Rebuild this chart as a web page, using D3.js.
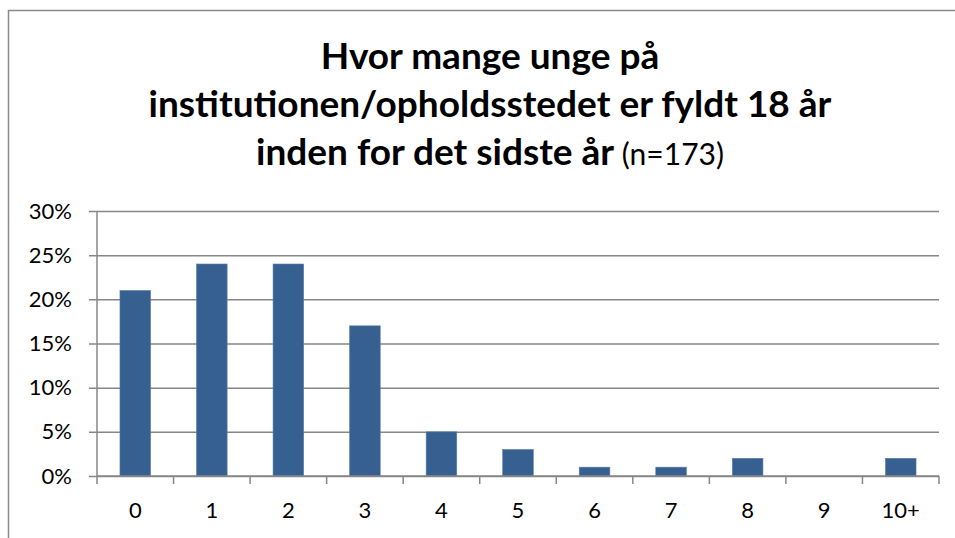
<!DOCTYPE html>
<html>
<head>
<meta charset="utf-8">
<script src="https://cdn.jsdelivr.net/npm/d3@7"></script>
<style>
  html, body { margin: 0; padding: 0; background: #fff; }
  svg { display: block; font-family: Lato, "Open Sans", sans-serif; }
</style>
</head>
<body>
<svg id="chart"></svg>
<script>
// Data
const categories = ['0', '1', '2', '3', '4', '5', '6', '7', '8', '9', '10+'];
const shares = [0.21, 0.24, 0.24, 0.17, 0.05, 0.03, 0.01, 0.01, 0.02, 0, 0.02];
const yTicks = [0, 0.05, 0.10, 0.15, 0.20, 0.25, 0.30];
const titleLines = ['Hvor mange unge på', 'institutionen/opholdsstedet er fyldt 18 år', 'inden for det sidste år'];
const titleNote = '(n=173)';

const width = 955, height = 538;
const margin = { top: 211, right: 16, bottom: 62, left: 97 };
const innerW = width - margin.left - margin.right;
const innerH = height - margin.top - margin.bottom;

const gridColor = '#878787';
const barColor = '#36608f';

const svg = d3.select('#chart')
  .attr('width', width)
  .attr('height', height)
  .attr('viewBox', `0 0 ${width} ${height}`);

// Chart frame
svg.append('rect')
  .attr('x', 8.5).attr('y', 10.5)
  .attr('width', width + 20).attr('height', height + 20)
  .attr('fill', 'none')
  .attr('stroke', '#8a8a8a')
  .attr('stroke-width', 1.5);

// Title
const title = svg.append('text')
  .attr('text-anchor', 'middle')
  .attr('fill', '#000');
titleLines.forEach((line, i) => {
  title.append('tspan')
    .attr('x', 490)
    .attr('y', 69 + i * 48)
    .attr('font-size', '37px')
    .attr('font-weight', '700')
    .text(line);
  if (i === titleLines.length - 1) {
    title.append('tspan')
      .attr('font-size', '30px')
      .attr('font-weight', '400')
      .text(' ' + titleNote);
  }
});

const x = d3.scaleBand()
  .domain(categories)
  .range([0, innerW])
  .paddingInner(0.6)
  .paddingOuter(0.3);

const y = d3.scaleLinear()
  .domain([0, 0.30])
  .range([innerH, 0]);

const g = svg.append('g').attr('transform', `translate(${margin.left}, ${margin.top})`);

// Gridlines with left tick marks
g.append('g')
  .attr('class', 'y-axis')
  .call(d3.axisLeft(y).tickValues(yTicks).tickSize(-innerW).tickFormat(d3.format('.0%')).tickPadding(25))
  .call(ax => ax.select('.domain').remove())
  .call(ax => ax.selectAll('line')
    .attr('x1', -8)
    .attr('stroke', gridColor)
    .attr('stroke-width', 1.5))
  .call(ax => ax.selectAll('text')
    .attr('font-size', '22px')
    .attr('font-family', 'Lato, sans-serif')
    .attr('fill', '#000'));

// Y axis line
g.append('line')
  .attr('x1', 0).attr('x2', 0)
  .attr('y1', 0).attr('y2', innerH)
  .attr('stroke', gridColor)
  .attr('stroke-width', 1.5);

// Bars
g.selectAll('rect.bar')
  .data(categories.map((c, i) => ({ c, v: shares[i] })))
  .join('rect')
  .attr('class', 'bar')
  .attr('x', d => x(d.c))
  .attr('y', d => y(d.v))
  .attr('width', x.bandwidth())
  .attr('height', d => innerH - y(d.v))
  .attr('fill', barColor)
  .attr('stroke', d => d.v > 0 ? '#5a7fb0' : 'none')
  .attr('stroke-width', 0.6);

// X axis with ticks at category boundaries
const step = x.step();
const xAxis = g.append('g').attr('transform', `translate(0, ${innerH})`);
xAxis.append('line')
  .attr('x1', 0).attr('x2', innerW)
  .attr('stroke', gridColor)
  .attr('stroke-width', 1.5);
d3.range(categories.length + 1).forEach(i => {
  xAxis.append('line')
    .attr('x1', i * step).attr('x2', i * step)
    .attr('y1', 0).attr('y2', 8)
    .attr('stroke', gridColor)
    .attr('stroke-width', 1.5);
});
xAxis.selectAll('text.xl')
  .data(categories)
  .join('text')
  .attr('class', 'xl')
  .attr('x', d => x(d) + x.bandwidth() / 2)
  .attr('y', 42)
  .attr('text-anchor', 'middle')
  .attr('font-size', '22px')
  .attr('fill', '#000')
  .text(d => d);
</script>
</body>
</html>
